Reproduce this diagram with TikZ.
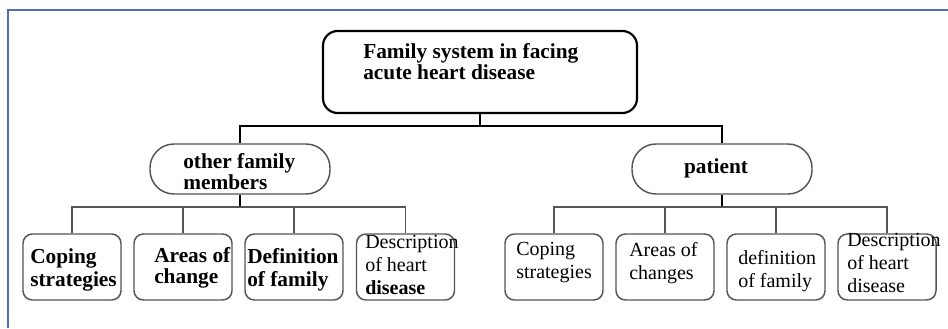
\documentclass[tikz,border=0pt]{standalone}
\usepackage{fontspec}
\setmainfont{Liberation Serif}
\definecolor{framecol}{HTML}{4F6DB8}
\definecolor{boxgray}{HTML}{555555}
\begin{document}
\begin{tikzpicture}[x=0.75pt,y=-0.75pt,
  topbox/.style={draw=black,line width=1.6pt,rounded corners=11pt,minimum width=235.5pt,minimum height=61.5pt,inner sep=0pt},
  midbox/.style={draw=boxgray,line width=1.1pt,rounded corners=18pt,minimum width=135pt,minimum height=37.5pt,inner sep=0pt},
  leafbox/.style={draw=boxgray,line width=1.1pt,rounded corners=7pt,minimum width=73.5pt,minimum height=49.5pt,inner sep=0pt},
  lbl/.style={anchor=north west,inner sep=0pt,align=left,font=\fontsize{15}{17.25}\selectfont},
  lblb/.style={lbl,font=\fontsize{16}{17.25}\selectfont\bfseries},
  mainline/.style={draw=black,line width=1.6pt},
  stub/.style={draw=black,line width=1.9pt},
  subline/.style={draw=boxgray,line width=1.1pt}]
\useasboundingbox (0,0) rectangle (948,328);
\fill[white] (0,0) rectangle (948,328);
% frame (top and left edges only)
\draw[framecol,line width=1.5pt] (8,328) -- (8,10) -- (948,10);

% boxes
\node[topbox] (top) at (480,72) {};
\node[midbox] (ml) at (240,169) {};
\node[midbox] (mr) at (722,169) {};

\node[leafbox] (l1) at (72,267) {};
\node[leafbox] (l2) at (183,267) {};
\node[leafbox] (l3) at (294,267) {};
\node[leafbox] (l4) at (405.5,267) {};
\node[leafbox] (r1) at (554,267) {};
\node[leafbox] (r2) at (665,267) {};
\node[leafbox] (r3) at (776,267) {};
\node[leafbox] (r4) at (887,267) {};

% texts
\node[lblb,font=\fontsize{16}{15.75}\selectfont\bfseries] (ttop) at (363,43) {Family system in facing\\acute heart disease};
\node[lblb,font=\fontsize{16}{15.75}\selectfont\bfseries] (tml) at (183,153) {other family\\members};
\node[inner sep=0pt,anchor=base,font=\fontsize{16}{17.25}\selectfont\bfseries] (tmr) at (716,173) {patient};

\node[lblb] (tl1) at (30,248) {Coping\\strategies};
\node[lblb,font=\fontsize{16}{15.75}\selectfont\bfseries] (tl2) at (154,247) {Areas of\\change};
\node[lblb] (tl3) at (247,248) {Definition\\of family};
\node[lbl] (tl4) at (365,235) {Description\\of heart\\\textbf{disease}};

\node[lbl] (tr1) at (516,242) {Coping\\strategies};
\node[lbl] (tr2) at (629,242) {Areas of\\changes};
\node[lbl] (tr3) at (738,250) {definition\\of family};
\node[lbl] (tr4) at (847,233) {Description\\of heart\\disease};

% connectors
\coordinate (j0) at (480,126);
\coordinate (jl) at (240,207);
\coordinate (jr) at (722,207);
\draw[mainline] (top.south) -- (j0);
\draw[mainline] (ml.north) |- (j0) -| (mr.north);
\draw[stub] (ml.south) -- (jl);
\draw[stub] (mr.south) -- (jr);
\draw[subline] (l1.north) |- (jl) -| (l4.north);
\draw[subline] (l2.north) -- (l2.north |- jl);
\draw[subline] (l3.north) -- (l3.north |- jl);
\draw[subline] (r1.north) |- (jr) -| (r4.north);
\draw[subline] (r2.north) -- (r2.north |- jr);
\draw[subline] (r3.north) -- (r3.north |- jr);
\end{tikzpicture}
\end{document}
